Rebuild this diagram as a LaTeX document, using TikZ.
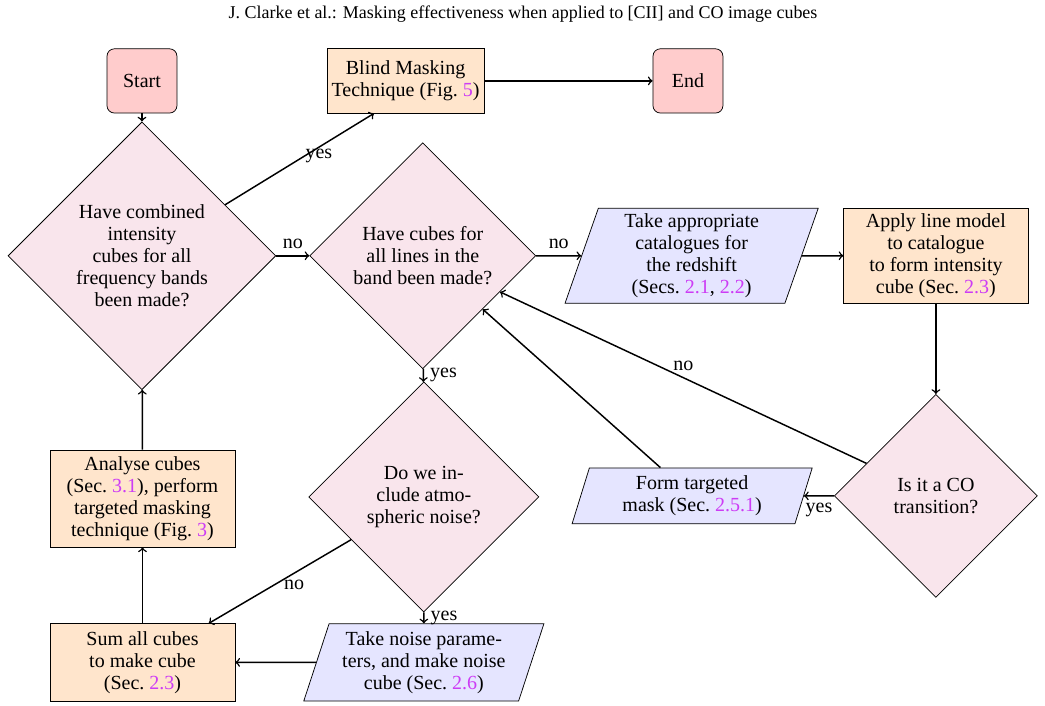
\documentclass[tikz,border=0pt]{standalone}
\usepackage{fontspec}
\setmainfont{Liberation Serif}
\usetikzlibrary{shapes.geometric,calc}
\definecolor{linkpurple}{RGB}{205,60,245}
\newcommand{\refnum}[1]{\textcolor{linkpurple}{#1}}

\begin{document}
\begin{tikzpicture}[
        font=\fontsize{10.9pt}{12pt}\selectfont,
        startstop/.style={rectangle, rounded corners, draw, fill=red!20, minimum width=1.34cm, minimum height=1.23cm, align=center},
        process/.style={rectangle, draw, fill=orange!20, align=center, inner sep=2pt},
        decision/.style={diamond, draw, fill=purple!10, align=center, inner sep=0pt, aspect=1},
        io/.style={trapezium, trapezium left angle=70, trapezium right angle=110, trapezium stretches body, draw, fill=blue!10, align=center, inner sep=2pt},
        arrow/.style={thick, ->}
    ]
        \useasboundingbox (0,0) rectangle (20.02,-13.51);
        % Running head
        \node (title) at (10.02,-0.27) {\fontsize{9.8pt}{12pt}\selectfont J. Clarke et al.: Masking effectiveness when applied to [CII] and CO image cubes};
        % Top row
        \node[startstop] (start) at (2.72,-1.55) {Start};
        \node[process, minimum width=3.01cm, minimum height=1.23cm] (blind) at (7.77,-1.55) {Blind Masking\\Technique (Fig.~\refnum{5})};
        \node[startstop] (end) at (13.18,-1.55) {End};
        % Second row
        \node[decision, minimum width=5.13cm, minimum height=5.13cm] (bands) at (2.72,-4.90) {Have combined\\intensity\\cubes for all\\frequency bands\\been made?};
        \node[decision, minimum width=4.33cm, minimum height=4.33cm] (lines) at (8.10,-4.90) {Have cubes for\\all lines in the\\band been made?};
        \node[io, minimum width=4.85cm, minimum height=1.82cm] (catalogue) at (13.25,-4.90) {Take appropriate\\catalogues for\\the redshift\\(Secs.~\refnum{2.1}, \refnum{2.2})};
        \node[process, minimum width=3.53cm, minimum height=1.82cm] (linemodel) at (17.93,-4.90) {Apply line model\\to catalogue\\to form intensity\\cube (Sec.~\refnum{2.3})};
        % Third row
        \node[process, minimum width=3.54cm, minimum height=1.86cm] (analyse) at (2.73,-9.55) {Analyse cubes\\(Sec.~\refnum{3.1}), perform\\targeted masking\\technique (Fig.~\refnum{3})};
        \node[decision, minimum width=4.41cm, minimum height=4.41cm] (noise) at (8.12,-9.52) {Do we in-\\clude atmo-\\spheric noise?};
        \node[io, minimum width=4.60cm, minimum height=1.07cm] (mask) at (13.26,-9.50) {Form targeted\\mask (Sec.~\refnum{2.5.1})};
        \node[decision, minimum width=3.89cm, minimum height=3.89cm] (isco) at (17.93,-9.50) {Is it a CO\\transition?};
        % Bottom row
        \node[process, minimum width=3.54cm, minimum height=1.48cm] (sum) at (2.73,-12.69) {Sum all cubes\\to make cube\\(Sec.~\refnum{2.3})};
        \node[io, minimum width=4.60cm, minimum height=1.48cm] (noisecube) at (8.12,-12.69) {Take noise parame-\\ters, and make noise\\cube (Sec.~\refnum{2.6})};
        % Arrows
        \draw[arrow] (start) -- (bands);
        \draw[arrow] (bands) -- node[pos=0.63, below, inner sep=0.5pt] {yes} ($(blind.south)!0.4!(blind.south west)$);
        \draw[arrow] (blind) -- (end);
        \draw[arrow] (bands) -- node[above] {no} (lines);
        \draw[arrow] (lines) -- node[above] {no} (catalogue);
        \draw[arrow] (catalogue) -- (linemodel);
        \draw[arrow] (linemodel) -- (isco);
        \draw[arrow] (isco) -- node[below] {yes} (mask);
        \draw[arrow] (isco) -- node[above] {no} (lines);
        \draw[arrow] (mask) -- (lines);
        \draw[arrow] (lines) -- node[right] {yes} (noise);
        \draw[arrow] (noise) -- node[right] {yes} (noisecube);
        \draw[arrow] (noise) -- node[pos=0.4, below] {no} (sum);
        \draw[arrow] (noisecube) -- (sum);
        \draw[arrow] (sum) -- (analyse);
        \draw[arrow] (analyse) -- (bands);
    \end{tikzpicture}
\end{document}
